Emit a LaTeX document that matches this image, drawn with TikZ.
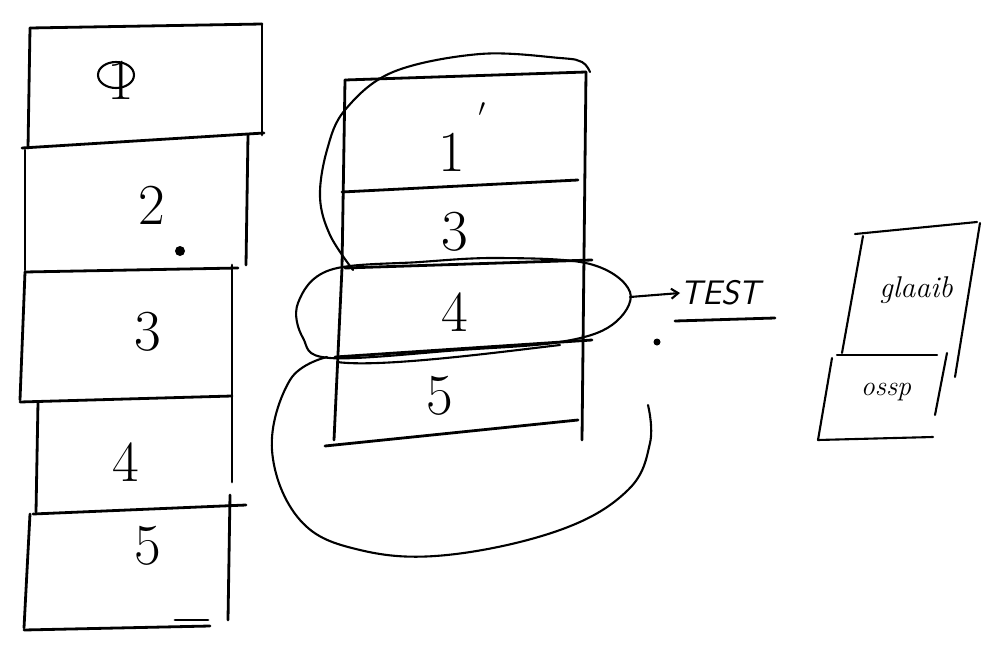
\documentclass[tikz,border=0pt]{standalone}
\usetikzlibrary{arrows.meta}
\begin{document}
\begin{tikzpicture}[x=1pt,y=-1pt,
  pen/.style={line width=2.8pt,line cap=round,line join=round,black},
  thin pen/.style={line width=2.1pt,line cap=round,line join=round,black},
  digit/.style={font=\fontsize{58}{58}\selectfont,inner sep=0pt},
  word/.style={font=\fontsize{34}{34}\selectfont\itshape,inner sep=0pt}]
\useasboundingbox (0,0) rectangle (986,653);
% ---------- left stack ----------
\draw[pen] (30,28) -- (262,24);
\draw[pen] (30,28) -- (28,148);
\draw[pen] (262,24) -- (262,135);
\draw[pen] (22,148) -- (264,133);
\draw[pen] (25,150) -- (25,270);
\draw[pen] (248,135) -- (246,265);
\draw[pen] (25,272) -- (238,268);
\draw[pen] (25,272) -- (20,400);
\draw[pen] (232,265) -- (232,396);
\draw[pen] (20,402) -- (232,396);
\draw[pen] (38,402) -- (36,512);
\draw[pen] (232,396) -- (232,482);
\draw[pen] (33,514) -- (246,505);
\draw[pen] (230,495) -- (228,620);
\draw[pen] (30,514) -- (24,628);
\draw[pen] (24,630) -- (210,626);
\draw[pen] (175,620) -- (208,620);
\node[digit] (l1) at (121,80) {1};
\draw[thin pen] (116,75) ellipse (18 and 13);
\node[digit] (l2) at (152,205) {2};
\fill (180,251) circle (5);
\node[digit] (l3) at (148,332) {3};
\node[digit] (l4) at (126,462) {4};
\node[digit] (l5) at (148,546) {5};
% ---------- middle stack ----------
\draw[pen] (345,80) -- (586,72);
\draw[pen] (345,80) -- (342,268);
\draw[pen] (342,268) -- (334,440);
\draw[pen] (586,72) -- (582,440);
\draw[pen] (342,192) -- (578,180);
\draw[pen] (345,268) -- (592,260);
\draw[pen] (335,357) -- (592,340);
\draw[pen] (325,446) -- (578,420);
\node[digit] (m1) at (452,152) {1};
\node[digit] (mp) at (482,114) {\fontsize{34}{34}\selectfont$'$};
\node[digit] (m3) at (455,232) {3};
\node[digit] (m4) at (455,312) {4};
\node[digit] (m5) at (440,396) {5};
% loop round 1' and 3
\draw[thin pen] plot[smooth,tension=0.6] coordinates {(353,270) (330,235) (320,197) (327,150) (345,110) (393,72) (480,54) (560,58) (582,62) (590,72)};
% ellipse round 4
\coordinate (e4) at (630,297);
\draw[thin pen] plot[smooth cycle,tension=0.6] coordinates {(298,303) (330,270) (420,262) (500,258) (590,264) (630,292) (612,325) (560,342) (460,350) (330,358) (303,338)};
% big loop round 5
\draw[thin pen] plot[smooth,tension=0.65] coordinates {(327,357) (290,380) (272,450) (300,520) (360,550) (447,555) (560,530) (628,490) (650,443) (648,405)};
\draw[thin pen] (337,362) .. controls (380,368) and (500,352) .. (560,345);
% arrow to TEST
\node[word,anchor=west,font=\fontsize{34}{34}\selectfont\sffamily\itshape] (test) at (680,293) {TEST};
\draw[thin pen,-{Straight Barb[length=7pt,width=10pt]}] (e4) -- (test.west);
\draw[pen] (675,321) -- (775,318);
\fill (657,342) circle (3.5);
% ---------- right boxes ----------
\draw[thin pen] (855,234) -- (977,222);
\draw[thin pen] (863,236) -- (842,353);
\draw[thin pen] (980,223) -- (955,377);
\draw[thin pen] (837,355) -- (937,355);
\draw[thin pen] (832,358) -- (818,440);
\draw[thin pen] (818,440) -- (933,437);
\draw[thin pen] (947,353) -- (935,415);
\node[word,font=\fontsize{30}{30}\selectfont\itshape] (g) at (916,290) {glaaib};
\node[word,font=\fontsize{28}{28}\selectfont\itshape] (o) at (886,392) {ossp};
\end{tikzpicture}
\end{document}
